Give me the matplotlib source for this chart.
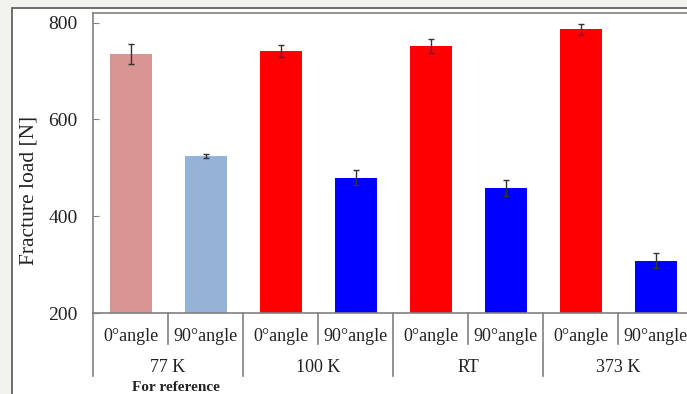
import matplotlib
matplotlib.use('Agg')
import matplotlib.pyplot as plt
from matplotlib.patches import Rectangle

plt.rcParams['font.family'] = ['Liberation Serif', 'DejaVu Serif']

# data
temps = ['77 K', '100 K', 'RT', '373 K']
angles = ['0°angle', '90°angle']
load_0 = [735, 742, 752, 786]
load_90 = [524, 480, 458, 308]
err_0 = [20, 12, 15, 12]
err_90 = [4, 15, 16, 15]
col_0 = ['#d99594', '#ff0000', '#ff0000', '#ff0000']
col_90 = ['#95b3d7', '#0000ff', '#0000ff', '#0000ff']

loads, errs, cols, labels = [], [], [], []
for i in range(len(temps)):
    loads += [load_0[i], load_90[i]]
    errs += [err_0[i], err_90[i]]
    cols += [col_0[i], col_90[i]]
    labels += angles
x = list(range(len(loads)))

W, H = 687, 394
fig = plt.figure(figsize=(W / 100, H / 100), dpi=100, facecolor='#f2f2ee')
# white panel behind the chart
fig.patches.append(Rectangle((12 / W, -0.1), 1.2, 1.1 - 8 / H,
                             transform=fig.transFigure, facecolor='white',
                             edgecolor='#555555', linewidth=1.2, zorder=-5))

ax = fig.add_axes([93 / W, 81 / H, 600 / W, 300 / H])
ax.bar(x, loads, width=0.56, color=cols, yerr=errs, capsize=2.5,
       error_kw=dict(ecolor='#333333', elinewidth=1, capthick=1))

ax.set_xlim(-0.5, len(loads) - 0.5)
ax.set_ylim(200, 820)
ax.set_yticks([200, 400, 600, 800])
ax.tick_params(axis='y', direction='in', length=4, color='#808080',
               labelsize=14, pad=11, labelcolor='#222222')
ax.set_xticks([])
for s in ax.spines.values():
    s.set_color('#808080')
    s.set_linewidth(1.2)
ax.set_ylabel('Fracture load [N]', fontsize=15.5, color='#222222',
              labelpad=7, y=0.41)

tr = ax.get_xaxis_transform()
for i, lab in enumerate(labels):
    ax.text(i, -0.077, lab, transform=tr, ha='center', va='center',
            fontsize=13, color='#222222')
for i in range(1, len(loads), 2):
    ax.plot([i - 0.5, i - 0.5], [0, -0.103], transform=tr, color='#808080',
            lw=1.2, clip_on=False)
for g, t in enumerate(temps):
    xg = 2 * g - 0.5
    ax.plot([xg, xg], [0, -0.21], transform=tr, color='#808080',
            lw=1.2, clip_on=False)
    ax.text(2 * g + 0.5, -0.18, t, transform=tr, ha='center', va='center',
            fontsize=13, color='#222222')
ax.text(0.6, -0.247, 'For reference', transform=tr, ha='center', va='center',
        fontsize=11, fontweight='bold', color='#222222')

fig.savefig('out.png', dpi=100, facecolor=fig.get_facecolor())
